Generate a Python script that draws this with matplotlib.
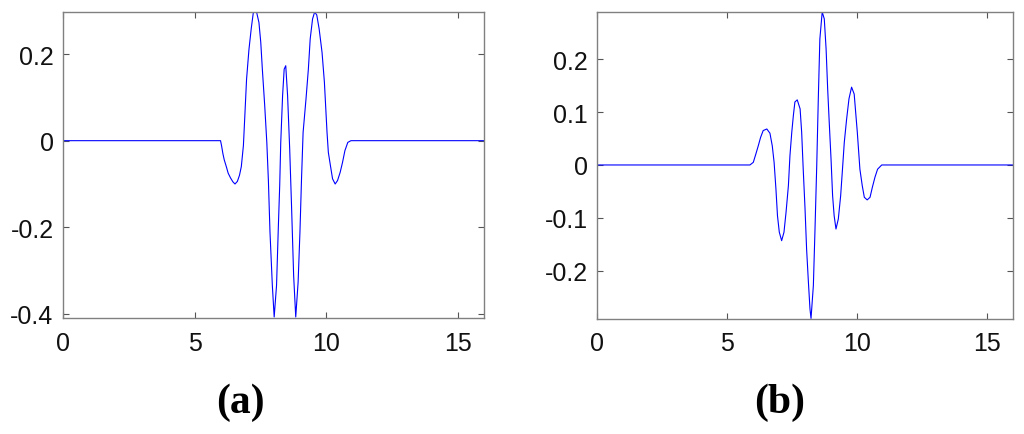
import matplotlib
matplotlib.use("Agg")
import matplotlib.pyplot as plt

plt.rcParams["font.family"] = "Liberation Sans"

# Panel (a): symmetric waveform
xa = [0.0, 5.98, 6.02, 6.07, 6.12, 6.20, 6.27, 6.36, 6.45, 6.53, 6.62, 6.70,
      6.77, 6.85, 6.91, 6.97, 7.06, 7.15, 7.23, 7.35, 7.44, 7.51, 7.57, 7.66,
      7.74, 7.80, 7.86, 7.95, 8.02, 8.11, 8.18, 8.23, 8.27, 8.34, 8.40, 8.46,
      8.53, 8.61, 8.68, 8.76, 8.84, 8.93, 9.00, 9.06, 9.12, 9.23, 9.32, 9.39,
      9.48, 9.56, 9.64, 9.73, 9.84, 9.93, 10.03, 10.08, 10.15, 10.24, 10.34,
      10.43, 10.53, 10.62, 10.71, 10.82, 10.94, 16.0]
ya = [0.0, 0.0, -0.012, -0.030, -0.044, -0.060, -0.075, -0.086, -0.095, -0.100,
      -0.094, -0.080, -0.060, -0.011, 0.065, 0.142, 0.210, 0.260, 0.297, 0.297,
      0.273, 0.227, 0.165, 0.081, -0.004, -0.092, -0.210, -0.334, -0.407,
      -0.334, -0.196, -0.104, -0.004, 0.104, 0.165, 0.173, 0.104, -0.019,
      -0.150, -0.311, -0.407, -0.327, -0.211, -0.088, 0.019, 0.096, 0.165,
      0.235, 0.281, 0.297, 0.290, 0.258, 0.204, 0.135, 0.019, -0.027, -0.054,
      -0.088, -0.100, -0.092, -0.073, -0.050, -0.023, -0.004, 0.0, 0.0]

# Panel (b): antisymmetric waveform
xb = [0.0, 5.87, 6.00, 6.10, 6.19, 6.28, 6.38, 6.52, 6.64, 6.73, 6.80, 6.87,
      6.93, 7.00, 7.09, 7.18, 7.26, 7.35, 7.41, 7.48, 7.54, 7.60, 7.69, 7.80,
      7.86, 7.92, 7.99, 8.05, 8.12, 8.18, 8.22, 8.31, 8.37, 8.44, 8.50, 8.56,
      8.65, 8.73, 8.80, 8.86, 8.92, 8.99, 9.05, 9.11, 9.18, 9.27, 9.36, 9.43,
      9.50, 9.59, 9.68, 9.78, 9.88, 10.00, 10.10, 10.19, 10.27, 10.38, 10.49,
      10.58, 10.68, 10.78, 10.94, 16.0]
yb = [0.0, 0.0, 0.005, 0.021, 0.036, 0.052, 0.065, 0.068, 0.060, 0.036, 0.005,
      -0.045, -0.096, -0.127, -0.143, -0.127, -0.089, -0.039, 0.018, 0.062,
      0.093, 0.119, 0.123, 0.106, 0.062, -0.008, -0.083, -0.159, -0.222,
      -0.272, -0.290, -0.228, -0.127, -0.001, 0.125, 0.238, 0.289, 0.276,
      0.219, 0.144, 0.081, 0.011, -0.058, -0.096, -0.121, -0.102, -0.058,
      -0.008, 0.043, 0.087, 0.125, 0.147, 0.134, 0.062, -0.008, -0.039,
      -0.061, -0.066, -0.061, -0.042, -0.023, -0.008, 0.0, 0.0]

a_ticks = [-0.4, -0.2, 0, 0.2]
a_labels = ["-0.4", "-0.2", "0", "0.2"]
b_ticks = [-0.2, -0.1, 0, 0.1, 0.2]
b_labels = ["-0.2", "-0.1", "0", "0.1", "0.2"]
x_ticks = [0, 5, 10, 15]

W, H = 1024, 435
fig = plt.figure(figsize=(W / 100, H / 100), dpi=100)

panels = [
    ([63.3, 13, 484, 319.3], xa, ya, (-0.41, 0.297), a_ticks, a_labels, "(a)", 240),
    ([597.3, 13, 1013.3, 320], xb, yb, (-0.291, 0.289), b_ticks, b_labels, "(b)", 780),
]

for (l, t, r, b), x, y, ylim, yt, yl, tag, tx in panels:
    ax = fig.add_axes([l / W, (H - b) / H, (r - l) / W, (b - t) / H])
    ax.plot(x, y, color="#0000ff", lw=0.8)
    ax.set_xlim(0, 16)
    ax.set_ylim(*ylim)
    ax.set_xticks(x_ticks, labels=[str(v) for v in x_ticks])
    ax.set_yticks(yt, labels=yl)
    ax.tick_params(direction="in", length=4, width=0.8, color="#555555",
                   labelsize=18, labelcolor="#111111",
                   top=True, right=True, pad=7)
    ax.tick_params(axis="x", pad=9)
    for s in ax.spines.values():
        s.set_color("#808080")
        s.set_linewidth(1.0)
    fig.text(tx / W, 1 - 403 / H, tag, ha="center", va="center",
             fontsize=30, fontweight="bold", family="Liberation Serif")

fig.savefig("out.png", dpi=100)
